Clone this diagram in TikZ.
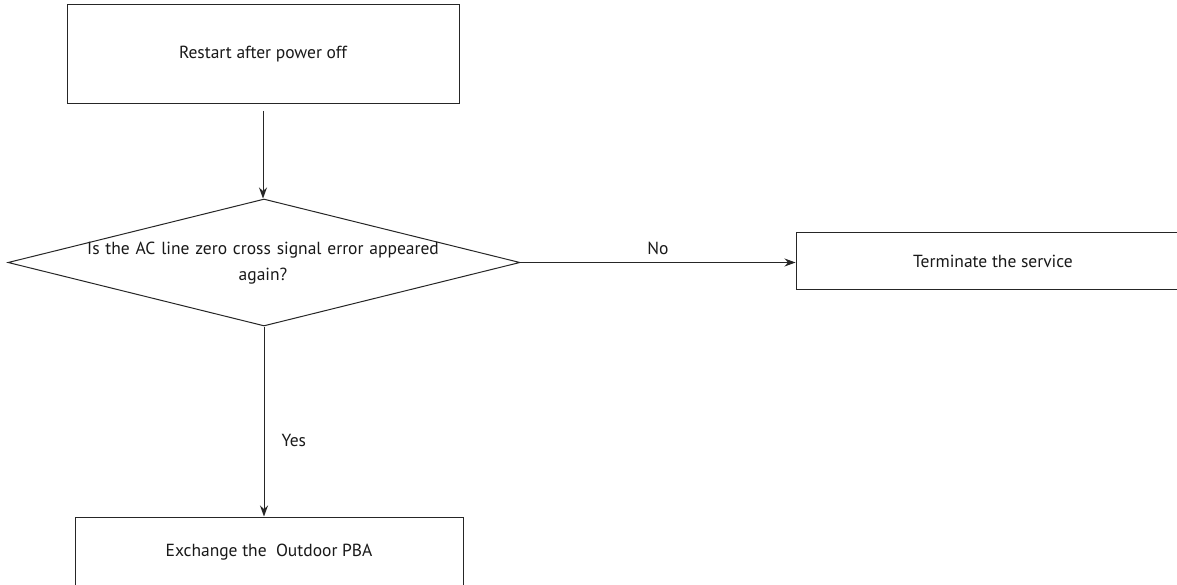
\documentclass[tikz,border=0pt]{standalone}
\usepackage{fontspec}
\setmainfont{PT Sans}
\usetikzlibrary{shapes.geometric,arrows.meta}
\begin{document}
\begin{tikzpicture}[x=1pt,y=-1pt,
  every node/.style={font=\fontsize{17.5}{26}\selectfont, text=black!90},
  procbox/.style={draw=black!85, line width=1pt, rectangle, inner sep=0pt},
  decide/.style={draw=black!85, line width=1pt, diamond, inner sep=0pt},
  conn/.style={draw=black!85, line width=1pt, -{Stealth[length=11pt,width=8pt]}},
  lbl/.style={inner sep=1pt}]
\useasboundingbox (0,0) rectangle (1177,585);
\clip (0,0) rectangle (1177,585);
\fill[white] (0,0) rectangle (1177,585);
\node[procbox, minimum width=392pt, minimum height=99pt] (start) at (263,54.5) {Restart after power off};
\node[decide, minimum width=512pt, minimum height=127pt] (dec) at (264,262.5) {};
\node[align=center, text width=400pt, inner sep=0pt] (dectext) at (263,263) {Is the AC line zero cross signal error appeared\\again?};
\node[procbox, minimum width=394pt, minimum height=57pt] (term) at (993,261) {Terminate the service};
\node[procbox, minimum width=388pt, minimum height=70pt] (exch) at (269,552) {Exchange the\ \ Outdoor PBA};
\coordinate (a1) at (263,111);
\draw[conn] (a1) -- (a1 |- dec.north);
\draw[conn] (dec.east) -- (dec.east -| term.west) node[lbl, midway, above=6pt] (no) {No};
\draw[conn] (dec.south) -- (dec.south |- exch.north) node[lbl, pos=0.6, right=16pt] (yes) {Yes};
\end{tikzpicture}
\end{document}
